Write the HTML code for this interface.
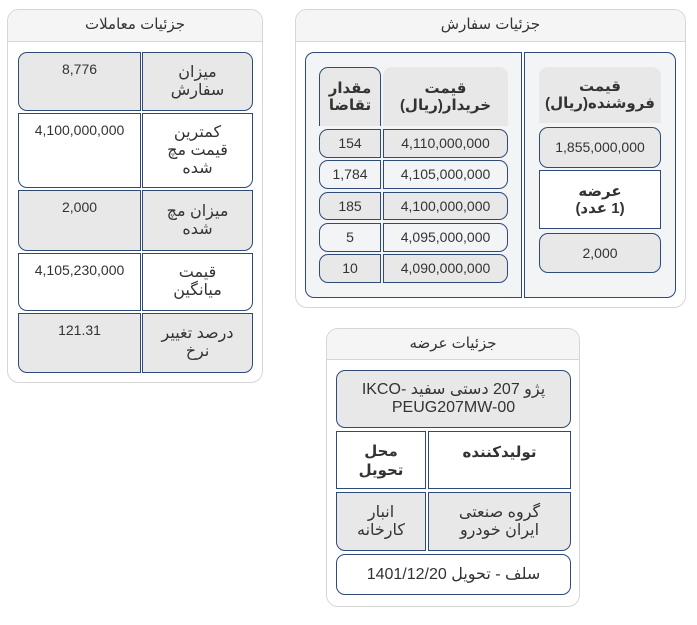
<!DOCTYPE html>
<html><head><meta charset="utf-8"><style>
*{box-sizing:border-box;margin:0;padding:0}
body{width:697px;height:625px;background:#fff;position:relative;font-family:"Liberation Sans","DejaVu Sans",sans-serif;color:#333;font-size:14px;overflow:hidden}
.a{position:absolute}
.p{border:1px solid #d6d6d6;border-radius:12px;background:#fff}
.hd{position:absolute;left:0;right:0;top:0;background:#f5f5f5;border-bottom:1px solid #d6d6d6;border-radius:12px 12px 0 0;text-align:center;direction:rtl;font-size:15px;color:#333}
.c{position:absolute;border:1px solid #2e4a78;display:flex;align-items:center;justify-content:center;text-align:center;direction:rtl;line-height:17px}
.t{align-items:flex-start;padding-top:8px}
.g{background:#e8e8e8}
.w{background:#fff}
.l{background:#f3f4f6}
.bd{font-weight:bold;font-size:15px}
.f{font-size:16px;line-height:18px}
</style></head><body>

<div class="a p" style="left:7px;top:9px;width:256px;height:374px">
<div class="hd" style="height:32px;line-height:30px">جزئیات معاملات</div></div>
<div class="c t g" style="left:18px;top:52px;width:123px;height:59px;border-radius:9px 0 0 9px">8,776</div>
<div class="c g f" style="left:142px;top:52px;width:111px;height:59px;border-radius:0 9px 9px 0">میزان<br>سفارش</div>
<div class="c t w" style="left:18px;top:113px;width:123px;height:75px;border-radius:0 0 0 9px">4,100,000,000</div>
<div class="c w f" style="left:142px;top:113px;width:111px;height:75px;border-radius:0 0 9px 0">کمترین<br>قیمت مچ<br>شده</div>
<div class="c t g" style="left:18px;top:190px;width:123px;height:61px;border-radius:0 0 0 9px">2,000</div>
<div class="c g f" style="left:142px;top:190px;width:111px;height:61px;border-radius:0 0 9px 0">میزان مچ<br>شده</div>
<div class="c t w" style="left:18px;top:253px;width:123px;height:58px;border-radius:0 0 0 9px">4,105,230,000</div>
<div class="c w f" style="left:142px;top:253px;width:111px;height:58px;border-radius:0 0 9px 0">قیمت<br>میانگین</div>
<div class="c t g" style="left:18px;top:313px;width:123px;height:60px;border-radius:0 0 0 9px">121.31</div>
<div class="c g f" style="left:142px;top:313px;width:111px;height:60px;border-radius:0 0 9px 0">درصد تغییر<br>نرخ</div>

<div class="a p" style="left:295px;top:9px;width:391px;height:299px">
<div class="hd" style="height:32px;line-height:30px">جزئیات سفارش</div></div>
<div class="c l" style="left:305px;top:52px;width:217px;height:246px;border-radius:9px 0 0 9px"></div>
<div class="c l" style="left:524px;top:52px;width:152px;height:246px;border-radius:0 9px 9px 0"></div>
<div class="c g bd" style="left:319px;top:67px;width:62px;height:59px;border-radius:9px 9px 0 0;border-bottom:none">مقدار<br>تقاضا</div>
<div class="c g bd" style="left:383px;top:67px;width:125px;height:59px;border:none;border-radius:9px 9px 0 0">قیمت<br>خریدار(ریال)</div>
<div class="c g" style="left:319px;top:129px;width:62px;height:29px;border-radius:9px 0 0 9px">154</div>
<div class="c g" style="left:383px;top:129px;width:125px;height:29px;border-radius:0 9px 9px 0">4,110,000,000</div>
<div class="c l" style="left:319px;top:160px;width:62px;height:29px;border-radius:9px 0 0 9px">1,784</div>
<div class="c l" style="left:383px;top:160px;width:125px;height:29px;border-radius:0 9px 9px 0">4,105,000,000</div>
<div class="c g" style="left:319px;top:192px;width:62px;height:28px;border-radius:9px 0 0 9px">185</div>
<div class="c g" style="left:383px;top:192px;width:125px;height:28px;border-radius:0 9px 9px 0">4,100,000,000</div>
<div class="c l" style="left:319px;top:223px;width:62px;height:29px;border-radius:9px 0 0 9px">5</div>
<div class="c l" style="left:383px;top:223px;width:125px;height:29px;border-radius:0 9px 9px 0">4,095,000,000</div>
<div class="c g" style="left:319px;top:254px;width:62px;height:29px;border-radius:9px 0 0 9px">10</div>
<div class="c g" style="left:383px;top:254px;width:125px;height:29px;border-radius:0 9px 9px 0">4,090,000,000</div>
<div class="c g bd" style="left:539px;top:67px;width:122px;height:56px;border:none;border-radius:9px 9px 0 0">قیمت<br>فروشنده(ریال)</div>
<div class="c g" style="left:539px;top:127px;width:122px;height:41px;border-radius:9px">1,855,000,000</div>
<div class="c w bd" style="left:539px;top:170px;width:122px;height:59px">عرضه<br>(1 عدد)</div>
<div class="c g" style="left:539px;top:233px;width:122px;height:40px;border-radius:9px">2,000</div>

<div class="a p" style="left:326px;top:328px;width:254px;height:279px">
<div class="hd" style="height:31px;line-height:29px">جزئیات عرضه</div></div>
<div class="c g f" style="left:336px;top:370px;width:235px;height:58px;border-radius:9px">پژو 207 دستی سفید -IKCO<br>PEUG207MW-00</div>
<div class="c t w bd" style="left:336px;top:431px;width:90px;height:58px;padding-top:10px;line-height:19px">محل<br>تحویل</div>
<div class="c t w bd" style="left:428px;top:431px;width:143px;height:58px;padding-top:12px">تولیدکننده</div>
<div class="c g f" style="left:336px;top:492px;width:90px;height:59px;border-radius:0 0 0 9px">انبار<br>کارخانه</div>
<div class="c g f" style="left:428px;top:492px;width:143px;height:59px;border-radius:0 0 9px 0">گروه صنعتی<br>ایران خودرو</div>
<div class="c w f" style="left:336px;top:554px;width:235px;height:41px;border-radius:9px">سلف - تحویل 1401/12/20</div>

</body></html>
